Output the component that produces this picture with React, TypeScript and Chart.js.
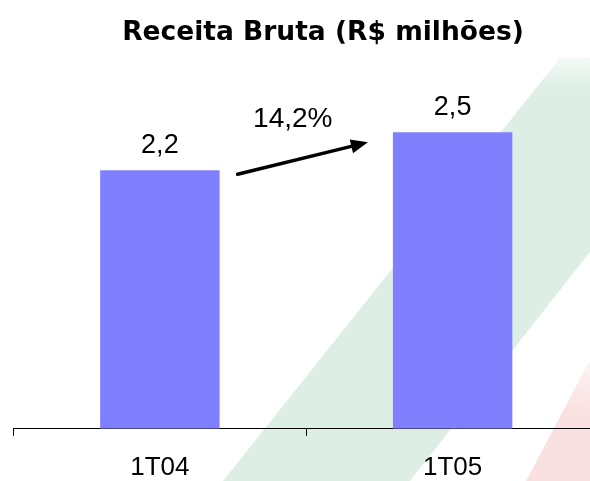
import React, { useEffect, useRef } from "react";
import { Chart, registerables } from "chart.js";

Chart.register(...registerables);

// ---- data ----
const TITLE = "Receita Bruta (R$ milhões)";
const CATEGORIES = ["1T04", "1T05"];
const REVENUE = [2.18, 2.5];
const VALUE_LABELS = ["2,2", "2,5"];
const GROWTH_LABEL = "14,2%";
const Y_MAX = 3;

const BAR_COLOR = "#8080ff";
const FONT = '"Liberation Sans", Arial, sans-serif';

const backgroundPlugin = {
  id: "bgStripes",
  beforeDraw(chart: any) {
    const ctx = chart.ctx as CanvasRenderingContext2D;
    const W = chart.width;
    const H = chart.height;
    ctx.save();
    ctx.fillStyle = "#ffffff";
    ctx.fillRect(0, 0, W, H);
    // green ribbon (decorative)
    const g = ctx.createLinearGradient(0, 55, 0, 90);
    g.addColorStop(0, "rgba(221,239,229,0.3)");
    g.addColorStop(1, "rgba(221,239,229,1)");
    ctx.fillStyle = g;
    ctx.beginPath();
    ctx.moveTo(560, 58);
    ctx.lineTo(742, 58);
    ctx.lineTo(410, 481);
    ctx.lineTo(223, 481);
    ctx.closePath();
    ctx.fill();
    // red ribbon (decorative)
    const r = ctx.createLinearGradient(0, 345, 0, 410);
    r.addColorStop(0, "rgba(250,225,225,0.2)");
    r.addColorStop(1, "rgba(250,225,225,1)");
    ctx.fillStyle = r;
    ctx.beginPath();
    ctx.moveTo(598, 345);
    ctx.lineTo(700, 345);
    ctx.lineTo(700, 481);
    ctx.lineTo(526, 481);
    ctx.closePath();
    ctx.fill();
    // title
    ctx.fillStyle = "#000000";
    ctx.font = 'bold 26.5px "DejaVu Sans", Verdana, sans-serif';
    ctx.textAlign = "center";
    ctx.textBaseline = "alphabetic";
    ctx.fillText(TITLE, 323, 40);
    ctx.restore();
  },
};

const annotationPlugin = {
  id: "valueLabels",
  afterDatasetsDraw(chart: any) {
    const ctx = chart.ctx as CanvasRenderingContext2D;
    const bars = chart.getDatasetMeta(0).data;
    ctx.save();
    ctx.fillStyle = "#000000";
    ctx.font = `27px ${FONT}`;
    ctx.textAlign = "center";
    ctx.textBaseline = "alphabetic";
    bars.forEach((b: any, i: number) => {
      ctx.fillText(VALUE_LABELS[i], b.x, b.y - 17);
    });
    // growth arrow
    const b0 = bars[0];
    const b1 = bars[1];
    const x0 = b0.x + b0.width / 2 + 18;
    const y0 = b0.y + 4;
    const x1 = b1.x - b1.width / 2 - 25;
    const y1 = b1.y + 10;
    const ang = Math.atan2(y1 - y0, x1 - x0);
    const headLen = 17;
    const headHalf = 7;
    const bx = x1 - headLen * Math.cos(ang);
    const by = y1 - headLen * Math.sin(ang);
    ctx.strokeStyle = "#000000";
    ctx.lineWidth = 3.5;
    ctx.lineCap = "round";
    ctx.beginPath();
    ctx.moveTo(x0, y0);
    ctx.lineTo(bx + 2 * Math.cos(ang), by + 2 * Math.sin(ang));
    ctx.stroke();
    ctx.beginPath();
    ctx.moveTo(x1, y1);
    ctx.lineTo(bx + headHalf * Math.sin(ang), by - headHalf * Math.cos(ang));
    ctx.lineTo(bx - headHalf * Math.sin(ang), by + headHalf * Math.cos(ang));
    ctx.closePath();
    ctx.fillStyle = "#000000";
    ctx.fill();
    ctx.font = `28px ${FONT}`;
    ctx.fillText(GROWTH_LABEL, (x0 + x1) / 2 - 10, y1 - 15);
    ctx.restore();
  },
};

export default function App() {
  const ref = useRef<HTMLCanvasElement | null>(null);
  useEffect(() => {
    if (!ref.current) return;
    const chart = new Chart(ref.current, {
      type: "bar",
      data: {
        labels: CATEGORIES,
        datasets: [
          {
            data: REVENUE,
            backgroundColor: BAR_COLOR,
            borderWidth: 0,
            barPercentage: 0.408,
            categoryPercentage: 1,
          },
        ],
      },
      options: {
        responsive: false,
        animation: false,
        layout: { padding: { left: 13.5, right: 1, top: 73, bottom: 0 } },
        plugins: {
          legend: { display: false },
          tooltip: { enabled: false },
          title: { display: false },
        },
        scales: {
          x: {
            offset: true,
            grid: {
              offset: true,
              display: true,
              drawOnChartArea: false,
              drawTicks: true,
              tickLength: 7,
              color: "#000000",
              lineWidth: 1,
            },
            border: { display: true, color: "#000000", width: 1 },
            ticks: {
              color: "#000000",
              font: { family: FONT, size: 26 },
              padding: 16,
              maxRotation: 0,
            },
          },
          y: {
            display: false,
            min: 0,
            max: Y_MAX,
          },
        },
      },
      plugins: [backgroundPlugin, annotationPlugin],
    });
    return () => chart.destroy();
  }, []);
  return (
    <div
      style={{
        position: "fixed",
        left: 0,
        top: 0,
        width: 590,
        height: 481,
        overflow: "hidden",
        background: "#fff",
      }}
    >
      <canvas ref={ref} width={600} height={499} style={{ display: "block" }} />
    </div>
  );
}
